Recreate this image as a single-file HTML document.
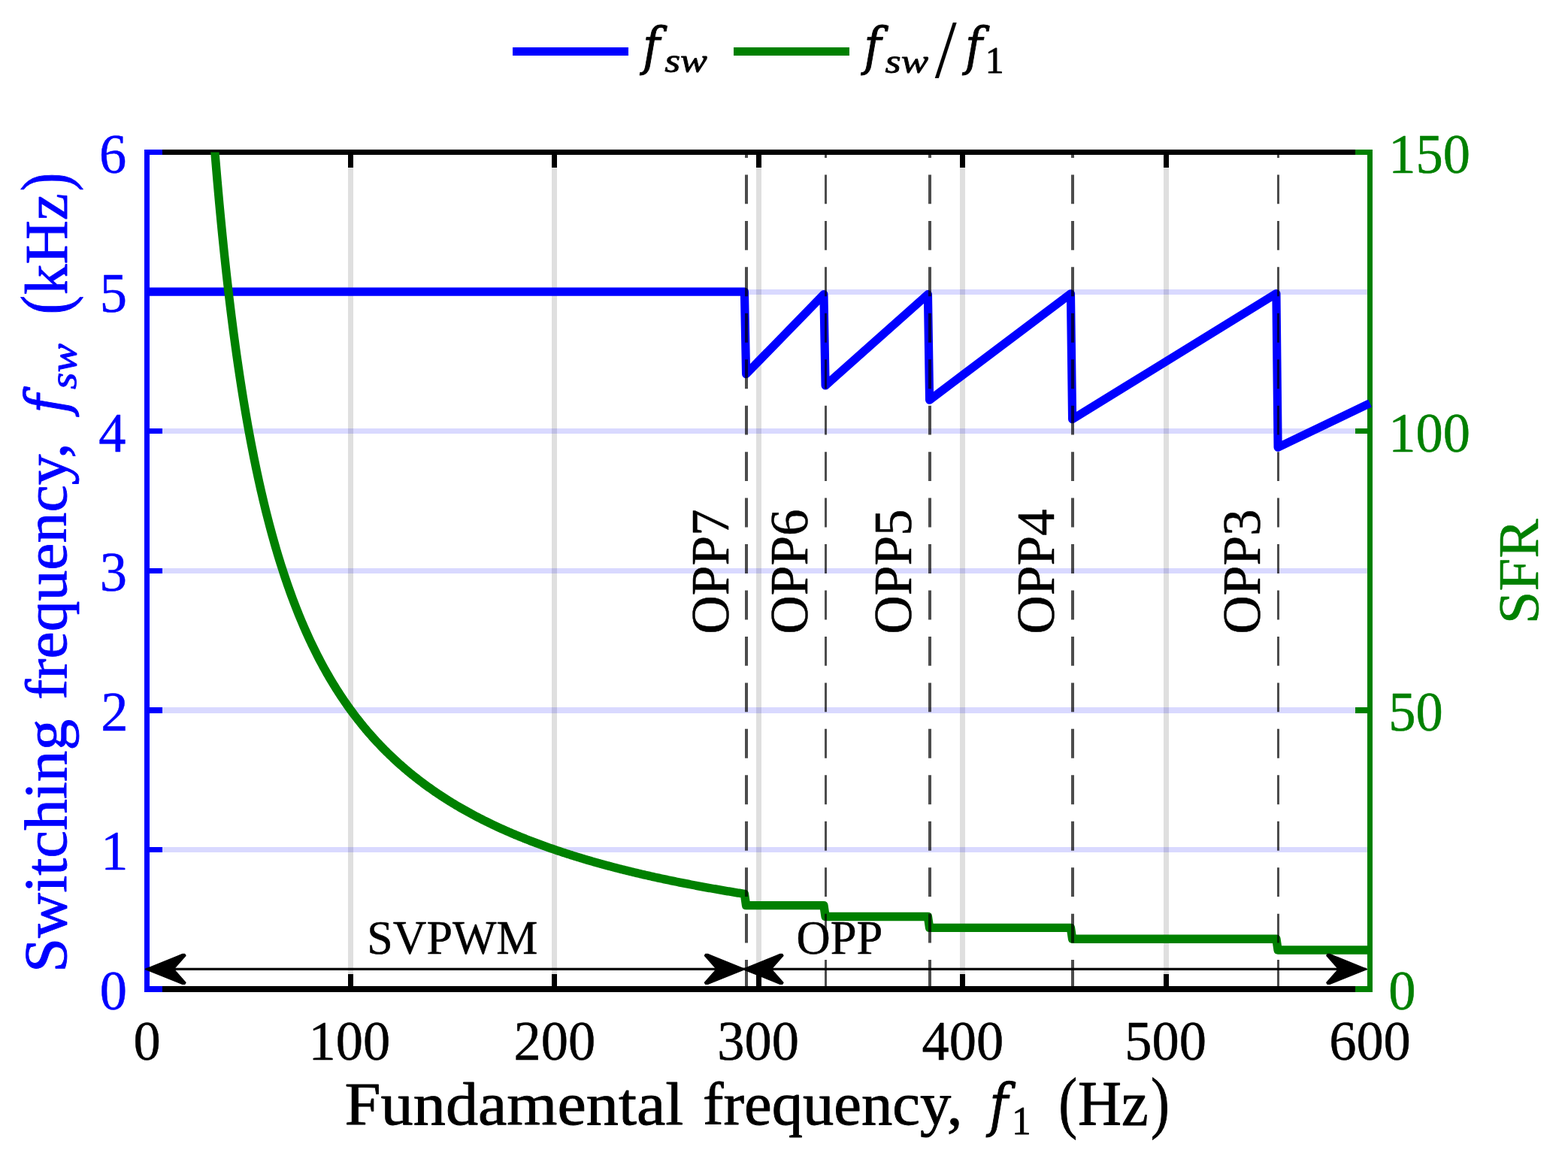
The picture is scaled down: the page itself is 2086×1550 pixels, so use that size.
<!DOCTYPE html>
<html><head><meta charset="utf-8"><title>Switching frequency vs fundamental frequency</title>
<style>html,body{margin:0;padding:0;background:#fff;}svg{display:block;}
text{font-family:"Liberation Serif","Times New Roman",serif;font-size:100px;}</style></head>
<body><svg width="2086" height="1550" viewBox="0 0 2086 1550">
<rect width="2086" height="1550" fill="#fff"/>
<rect x="463" y="206" width="7" height="1106" fill="#262626" fill-opacity="0.15"/>
<rect x="734" y="206" width="7" height="1106" fill="#262626" fill-opacity="0.15"/>
<rect x="1006" y="206" width="7" height="1106" fill="#262626" fill-opacity="0.15"/>
<rect x="1277" y="206" width="7" height="1106" fill="#262626" fill-opacity="0.15"/>
<rect x="1548" y="206" width="7" height="1106" fill="#262626" fill-opacity="0.15"/>
<rect x="199" y="1127" width="1620" height="7" fill="#0000ff" fill-opacity="0.15"/>
<rect x="199" y="941" width="1620" height="8" fill="#0000ff" fill-opacity="0.15"/>
<rect x="199" y="756" width="1620" height="7" fill="#0000ff" fill-opacity="0.15"/>
<rect x="199" y="570" width="1620" height="7" fill="#0000ff" fill-opacity="0.15"/>
<rect x="199" y="385" width="1620" height="7" fill="#0000ff" fill-opacity="0.15"/>
<rect x="192" y="199" width="1634" height="7" fill="#000"/>
<rect x="192" y="1312" width="1634" height="8" fill="#000"/>
<rect x="463" y="206" width="7" height="17" fill="#000"/>
<rect x="463" y="1296" width="7" height="16" fill="#000"/>
<rect x="734" y="206" width="7" height="17" fill="#000"/>
<rect x="734" y="1296" width="7" height="16" fill="#000"/>
<rect x="1006" y="206" width="7" height="17" fill="#000"/>
<rect x="1006" y="1296" width="7" height="16" fill="#000"/>
<rect x="1277" y="206" width="7" height="17" fill="#000"/>
<rect x="1277" y="1296" width="7" height="16" fill="#000"/>
<rect x="1548" y="206" width="7" height="17" fill="#000"/>
<rect x="1548" y="1296" width="7" height="16" fill="#000"/>
<rect x="192" y="199" width="7" height="1121" fill="#0000ff"/>
<rect x="192" y="1312" width="24" height="8" fill="#0000ff"/>
<rect x="192" y="1127" width="24" height="7" fill="#0000ff"/>
<rect x="192" y="941" width="24" height="8" fill="#0000ff"/>
<rect x="192" y="756" width="24" height="7" fill="#0000ff"/>
<rect x="192" y="570" width="24" height="7" fill="#0000ff"/>
<rect x="192" y="385" width="24" height="7" fill="#0000ff"/>
<rect x="192" y="199" width="24" height="7" fill="#0000ff"/>
<rect x="1819" y="199" width="7" height="1121" fill="#008000"/>
<rect x="1803" y="1312" width="23" height="8" fill="#008000"/>
<rect x="1803" y="941" width="23" height="8" fill="#008000"/>
<rect x="1803" y="570" width="23" height="7" fill="#008000"/>
<rect x="1803" y="199" width="23" height="7" fill="#008000"/>
<defs><clipPath id="clipTop"><rect x="150" y="202.5" width="1750" height="1200"/></clipPath></defs>
<polyline points="195.50,388.08 990.43,388.08 992.60,497.71 1095.93,391.63 1098.10,512.95 1234.43,391.66 1236.60,532.23 1424.43,390.83 1426.60,557.70 1697.93,390.58 1700.10,595.19 1822.50,536.55" fill="none" stroke="#0000ff" stroke-width="11.2" stroke-linejoin="round"/>
<polyline clip-path="url(#clipTop)" points="276.85,78.78 278.21,99.06 279.56,118.69 280.92,137.69 282.27,156.10 283.63,173.95 284.99,191.25 286.34,208.04 287.70,224.33 289.05,240.15 290.41,255.52 291.76,270.46 293.12,284.98 294.48,299.11 295.83,312.85 297.19,326.22 298.54,339.25 299.90,351.93 301.25,364.29 302.61,376.34 303.97,388.08 305.32,399.54 306.68,410.72 308.03,421.62 309.39,432.27 310.75,442.67 312.10,452.82 313.46,462.74 314.81,472.44 316.17,481.92 317.52,491.19 318.88,500.25 320.24,509.12 321.59,517.79 322.95,526.28 324.30,534.60 325.66,542.74 327.02,550.71 328.37,558.52 329.73,566.17 331.08,573.67 332.44,581.02 333.79,588.22 335.15,595.29 336.51,602.22 337.86,609.02 339.22,615.69 340.57,622.23 341.93,628.65 343.29,634.96 344.64,641.15 346.00,647.23 347.35,653.20 348.71,659.07 350.06,664.83 351.42,670.49 352.78,676.06 354.13,681.53 355.49,686.90 356.84,692.19 358.20,697.39 359.56,702.50 360.91,707.53 362.27,712.48 363.62,717.34 364.98,722.13 366.33,726.85 367.69,731.49 369.05,736.05 370.40,740.55 371.76,744.97 373.11,749.33 374.47,753.63 375.83,757.85 377.18,762.02 378.54,766.12 379.89,770.17 381.25,774.15 382.61,778.08 383.96,781.95 385.32,785.76 386.67,789.52 388.03,793.23 389.38,796.89 390.74,800.49 392.10,804.05 393.45,807.55 394.81,811.01 396.16,814.42 397.52,817.79 398.88,821.11 400.23,824.39 401.59,827.62 402.94,830.81 404.30,833.97 405.65,837.08 407.01,840.15 408.37,843.18 409.72,846.17 411.08,849.12 412.43,852.04 413.79,854.92 415.14,857.77 416.50,860.58 417.86,863.36 419.21,866.10 420.57,868.81 421.92,871.49 423.28,874.13 424.64,876.75 425.99,879.33 427.35,881.89 428.70,884.41 430.06,886.91 431.41,889.37 432.77,891.81 434.13,894.22 435.48,896.60 436.84,898.96 438.19,901.29 439.55,903.59 440.91,905.87 442.26,908.12 443.62,910.35 444.97,912.56 446.33,914.74 447.68,916.90 449.04,919.03 450.40,921.14 451.75,923.23 453.11,925.30 454.46,927.34 455.82,929.37 457.18,931.37 458.53,933.35 459.89,935.32 461.24,937.26 462.60,939.18 463.95,941.08 465.31,942.97 466.67,944.83 468.02,946.68 469.38,948.51 470.73,950.32 472.09,952.11 473.45,953.89 474.80,955.64 476.16,957.38 477.51,959.11 478.87,960.82 480.22,962.51 481.58,964.18 482.94,965.84 484.29,967.49 485.65,969.12 487.00,970.73 488.36,972.33 489.72,973.91 491.07,975.48 492.43,977.04 493.78,978.58 495.14,980.10 496.49,981.62 497.85,983.12 499.21,984.60 500.56,986.07 501.92,987.53 503.27,988.98 504.63,990.42 505.99,991.84 507.34,993.25 508.70,994.64 510.05,996.03 511.41,997.40 512.76,998.76 514.12,1000.11 515.48,1001.45 516.83,1002.78 518.19,1004.10 519.54,1005.40 520.90,1006.69 522.26,1007.98 523.61,1009.25 524.97,1010.51 526.32,1011.77 527.68,1013.01 529.03,1014.24 530.39,1015.46 531.75,1016.67 533.10,1017.87 534.46,1019.07 535.81,1020.25 537.17,1021.42 538.53,1022.59 539.88,1023.74 541.24,1024.89 542.59,1026.03 543.95,1027.15 545.30,1028.27 546.66,1029.38 548.02,1030.49 549.37,1031.58 550.73,1032.67 552.08,1033.74 553.44,1034.81 554.80,1035.87 556.15,1036.93 557.51,1037.97 558.86,1039.01 560.22,1040.04 561.58,1041.06 562.93,1042.08 564.29,1043.08 565.64,1044.08 567.00,1045.08 568.35,1046.06 569.71,1047.04 571.07,1048.01 572.42,1048.97 573.78,1049.93 575.13,1050.88 576.49,1051.82 577.85,1052.76 579.20,1053.69 580.56,1054.62 581.91,1055.53 583.27,1056.44 584.62,1057.35 585.98,1058.25 587.34,1059.14 588.69,1060.02 590.05,1060.90 591.40,1061.78 592.76,1062.64 594.12,1063.51 595.47,1064.36 596.83,1065.21 598.18,1066.06 599.54,1066.89 600.89,1067.73 602.25,1068.56 603.61,1069.38 604.96,1070.19 606.32,1071.01 607.67,1071.81 609.03,1072.61 610.38,1073.41 611.74,1074.20 613.10,1074.98 614.45,1075.76 615.81,1076.54 617.16,1077.31 618.52,1078.07 619.88,1078.83 621.23,1079.59 622.59,1080.34 623.94,1081.08 625.30,1081.83 626.65,1082.56 628.01,1083.29 629.37,1084.02 630.72,1084.74 632.08,1085.46 633.43,1086.18 634.79,1086.88 636.15,1087.59 637.50,1088.29 638.86,1088.99 640.21,1089.68 641.57,1090.37 642.92,1091.05 644.28,1091.73 645.64,1092.41 646.99,1093.08 648.35,1093.74 649.70,1094.41 651.06,1095.07 652.42,1095.72 653.77,1096.37 655.13,1097.02 656.48,1097.67 657.84,1098.31 659.19,1098.94 660.55,1099.58 661.91,1100.21 663.26,1100.83 664.62,1101.45 665.97,1102.07 667.33,1102.69 668.69,1103.30 670.04,1103.90 671.40,1104.51 672.75,1105.11 674.11,1105.71 675.46,1106.30 676.82,1106.89 678.18,1107.48 679.53,1108.06 680.89,1108.64 682.24,1109.22 683.60,1109.80 684.96,1110.37 686.31,1110.94 687.67,1111.50 689.02,1112.06 690.38,1112.62 691.73,1113.18 693.09,1113.73 694.45,1114.28 695.80,1114.83 697.16,1115.37 698.51,1115.91 699.87,1116.45 701.23,1116.98 702.58,1117.52 703.94,1118.04 705.29,1118.57 706.65,1119.09 708.00,1119.62 709.36,1120.13 710.72,1120.65 712.07,1121.16 713.43,1121.67 714.78,1122.18 716.14,1122.68 717.50,1123.19 718.85,1123.69 720.21,1124.18 721.56,1124.68 722.92,1125.17 724.27,1125.66 725.63,1126.14 726.99,1126.63 728.34,1127.11 729.70,1127.59 731.05,1128.07 732.41,1128.54 733.77,1129.01 735.12,1129.48 736.48,1129.95 737.83,1130.42 739.19,1130.88 740.54,1131.34 741.90,1131.80 743.26,1132.25 744.61,1132.71 745.97,1133.16 747.32,1133.61 748.68,1134.06 750.04,1134.50 751.39,1134.94 752.75,1135.38 754.10,1135.82 755.46,1136.26 756.81,1136.69 758.17,1137.12 759.53,1137.55 760.88,1137.98 762.24,1138.41 763.59,1138.83 764.95,1139.25 766.31,1139.67 767.66,1140.09 769.02,1140.51 770.37,1140.92 771.73,1141.33 773.08,1141.74 774.44,1142.15 775.80,1142.56 777.15,1142.96 778.51,1143.36 779.86,1143.76 781.22,1144.16 782.58,1144.56 783.93,1144.96 785.29,1145.35 786.64,1145.74 788.00,1146.13 789.35,1146.52 790.71,1146.90 792.07,1147.29 793.42,1147.67 794.78,1148.05 796.13,1148.43 797.49,1148.81 798.85,1149.18 800.20,1149.56 801.56,1149.93 802.91,1150.30 804.27,1150.67 805.62,1151.04 806.98,1151.40 808.34,1151.77 809.69,1152.13 811.05,1152.49 812.40,1152.85 813.76,1153.21 815.12,1153.56 816.47,1153.92 817.83,1154.27 819.18,1154.62 820.54,1154.97 821.89,1155.32 823.25,1155.67 824.61,1156.01 825.96,1156.36 827.32,1156.70 828.67,1157.04 830.03,1157.38 831.39,1157.72 832.74,1158.06 834.10,1158.39 835.45,1158.73 836.81,1159.06 838.16,1159.39 839.52,1159.72 840.88,1160.05 842.23,1160.37 843.59,1160.70 844.94,1161.02 846.30,1161.35 847.66,1161.67 849.01,1161.99 850.37,1162.31 851.72,1162.63 853.08,1162.94 854.43,1163.26 855.79,1163.57 857.15,1163.88 858.50,1164.19 859.86,1164.50 861.21,1164.81 862.57,1165.12 863.93,1165.43 865.28,1165.73 866.64,1166.03 867.99,1166.34 869.35,1166.64 870.70,1166.94 872.06,1167.24 873.42,1167.53 874.77,1167.83 876.13,1168.12 877.48,1168.42 878.84,1168.71 880.20,1169.00 881.55,1169.29 882.91,1169.58 884.26,1169.87 885.62,1170.16 886.97,1170.44 888.33,1170.73 889.69,1171.01 891.04,1171.30 892.40,1171.58 893.75,1171.86 895.11,1172.14 896.47,1172.42 897.82,1172.69 899.18,1172.97 900.53,1173.24 901.89,1173.52 903.24,1173.79 904.60,1174.06 905.96,1174.33 907.31,1174.60 908.67,1174.87 910.02,1175.14 911.38,1175.41 912.74,1175.67 914.09,1175.94 915.45,1176.20 916.80,1176.46 918.16,1176.73 919.51,1176.99 920.87,1177.25 922.23,1177.50 923.58,1177.76 924.94,1178.02 926.29,1178.28 927.65,1178.53 929.01,1178.78 930.36,1179.04 931.72,1179.29 933.07,1179.54 934.43,1179.79 935.78,1180.04 937.14,1180.29 938.50,1180.54 939.85,1180.78 941.21,1181.03 942.56,1181.28 943.92,1181.52 945.28,1181.76 946.63,1182.00 947.99,1182.25 949.34,1182.49 950.70,1182.73 952.05,1182.97 953.41,1183.20 954.77,1183.44 956.12,1183.68 957.48,1183.91 958.83,1184.15 960.19,1184.38 961.55,1184.61 962.90,1184.85 964.26,1185.08 965.61,1185.31 966.97,1185.54 968.32,1185.77 969.68,1185.99 971.04,1186.22 972.39,1186.45 973.75,1186.67 975.10,1186.90 976.46,1187.12 977.82,1187.35 979.17,1187.57 980.53,1187.79 981.88,1188.01 983.24,1188.23 984.59,1188.45 985.95,1188.67 987.31,1188.89 988.66,1189.11 990.02,1189.32 990.43,1189.39 992.60,1204.65 1095.93,1204.65 1098.10,1219.50 1234.43,1219.50 1236.60,1234.34 1424.43,1234.34 1426.60,1249.19 1697.93,1249.19 1700.10,1264.04 1822.50,1264.04" fill="none" stroke="#008000" stroke-width="11.4" stroke-linejoin="round"/>
<path d="M991,1277.10H995V1316.00H991ZM991,1215.65H995V1254.55H991ZM991,1154.20H995V1193.10H991ZM991,1092.75H995V1131.65H991ZM991,1031.30H995V1070.20H991ZM991,969.85H995V1008.75H991ZM991,908.40H995V947.30H991ZM991,846.95H995V885.85H991ZM991,785.50H995V824.40H991ZM991,724.05H995V762.95H991ZM991,662.60H995V701.50H991ZM991,601.15H995V640.05H991ZM991,539.70H995V578.60H991ZM991,478.25H995V517.15H991ZM991,416.80H995V455.70H991ZM991,355.35H995V394.25H991ZM991,293.90H995V332.80H991ZM991,232.45H995V271.35H991ZM991,202.50H995V209.90H991Z" fill="#000" fill-opacity="0.7"/>
<path d="M1097,1277.10H1100V1316.00H1097ZM1097,1215.65H1100V1254.55H1097ZM1097,1154.20H1100V1193.10H1097ZM1097,1092.75H1100V1131.65H1097ZM1097,1031.30H1100V1070.20H1097ZM1097,969.85H1100V1008.75H1097ZM1097,908.40H1100V947.30H1097ZM1097,846.95H1100V885.85H1097ZM1097,785.50H1100V824.40H1097ZM1097,724.05H1100V762.95H1097ZM1097,662.60H1100V701.50H1097ZM1097,601.15H1100V640.05H1097ZM1097,539.70H1100V578.60H1097ZM1097,478.25H1100V517.15H1097ZM1097,416.80H1100V455.70H1097ZM1097,355.35H1100V394.25H1097ZM1097,293.90H1100V332.80H1097ZM1097,232.45H1100V271.35H1097ZM1097,202.50H1100V209.90H1097Z" fill="#000" fill-opacity="0.7"/>
<path d="M1235,1277.10H1239V1316.00H1235ZM1235,1215.65H1239V1254.55H1235ZM1235,1154.20H1239V1193.10H1235ZM1235,1092.75H1239V1131.65H1235ZM1235,1031.30H1239V1070.20H1235ZM1235,969.85H1239V1008.75H1235ZM1235,908.40H1239V947.30H1235ZM1235,846.95H1239V885.85H1235ZM1235,785.50H1239V824.40H1235ZM1235,724.05H1239V762.95H1235ZM1235,662.60H1239V701.50H1235ZM1235,601.15H1239V640.05H1235ZM1235,539.70H1239V578.60H1235ZM1235,478.25H1239V517.15H1235ZM1235,416.80H1239V455.70H1235ZM1235,355.35H1239V394.25H1235ZM1235,293.90H1239V332.80H1235ZM1235,232.45H1239V271.35H1235ZM1235,202.50H1239V209.90H1235Z" fill="#000" fill-opacity="0.7"/>
<path d="M1425,1277.10H1429V1316.00H1425ZM1425,1215.65H1429V1254.55H1425ZM1425,1154.20H1429V1193.10H1425ZM1425,1092.75H1429V1131.65H1425ZM1425,1031.30H1429V1070.20H1425ZM1425,969.85H1429V1008.75H1425ZM1425,908.40H1429V947.30H1425ZM1425,846.95H1429V885.85H1425ZM1425,785.50H1429V824.40H1425ZM1425,724.05H1429V762.95H1425ZM1425,662.60H1429V701.50H1425ZM1425,601.15H1429V640.05H1425ZM1425,539.70H1429V578.60H1425ZM1425,478.25H1429V517.15H1425ZM1425,416.80H1429V455.70H1425ZM1425,355.35H1429V394.25H1425ZM1425,293.90H1429V332.80H1425ZM1425,232.45H1429V271.35H1425ZM1425,202.50H1429V209.90H1425Z" fill="#000" fill-opacity="0.7"/>
<path d="M1699,1277.10H1702V1316.00H1699ZM1699,1215.65H1702V1254.55H1699ZM1699,1154.20H1702V1193.10H1699ZM1699,1092.75H1702V1131.65H1699ZM1699,1031.30H1702V1070.20H1699ZM1699,969.85H1702V1008.75H1699ZM1699,908.40H1702V947.30H1699ZM1699,846.95H1702V885.85H1699ZM1699,785.50H1702V824.40H1699ZM1699,724.05H1702V762.95H1699ZM1699,662.60H1702V701.50H1699ZM1699,601.15H1702V640.05H1699ZM1699,539.70H1702V578.60H1699ZM1699,478.25H1702V517.15H1699ZM1699,416.80H1702V455.70H1699ZM1699,355.35H1702V394.25H1699ZM1699,293.90H1702V332.80H1699ZM1699,232.45H1702V271.35H1699ZM1699,202.50H1702V209.90H1699Z" fill="#000" fill-opacity="0.7"/>
<line x1="193.80" y1="1289.4" x2="990.60" y2="1289.4" stroke="#000" stroke-width="3.2"/>
<polygon points="193.60,1289.40 242.80,1269.60 245.80,1269.60 246.80,1271.40 232.00,1288.20 232.00,1290.60 246.80,1307.40 245.80,1309.20 242.80,1309.20" fill="#000" stroke="#000" stroke-width="1.6" stroke-linejoin="round"/>
<polygon points="990.80,1289.40 941.60,1269.60 938.60,1269.60 937.60,1271.40 952.40,1288.20 952.40,1290.60 937.60,1307.40 938.60,1309.20 941.60,1309.20" fill="#000" stroke="#000" stroke-width="1.6" stroke-linejoin="round"/>
<line x1="988.80" y1="1289.4" x2="1818.00" y2="1289.4" stroke="#000" stroke-width="3.2"/>
<polygon points="988.60,1289.40 1037.80,1269.60 1040.80,1269.60 1041.80,1271.40 1027.00,1288.20 1027.00,1290.60 1041.80,1307.40 1040.80,1309.20 1037.80,1309.20" fill="#000" stroke="#000" stroke-width="1.6" stroke-linejoin="round"/>
<polygon points="1818.20,1289.40 1769.00,1269.60 1766.00,1269.60 1765.00,1271.40 1779.80,1288.20 1779.80,1290.60 1765.00,1307.40 1766.00,1309.20 1769.00,1309.20" fill="#000" stroke="#000" stroke-width="1.6" stroke-linejoin="round"/>
<text transform="matrix(0.6193,0.0000,0.0000,0.6328,488.3147,1269.4843)" fill="#000" stroke="#000" stroke-width="0.799" stroke-linejoin="round">SVPWM</text>
<text transform="matrix(0.6257,0.0000,0.0000,0.6313,1059.5471,1269.4873)" fill="#000" stroke="#000" stroke-width="0.796" stroke-linejoin="round">OPP</text>
<text transform="matrix(0.0000,-0.7132,0.7245,0.0000,968.7000,843.7529)" fill="#000" stroke="#000" stroke-width="0.696" stroke-linejoin="round">OPP7</text>
<text transform="matrix(0.0000,-0.7132,0.7245,0.0000,1073.6000,843.7529)" fill="#000" stroke="#000" stroke-width="0.696" stroke-linejoin="round">OPP6</text>
<text transform="matrix(0.0000,-0.7132,0.7245,0.0000,1212.3000,843.7529)" fill="#000" stroke="#000" stroke-width="0.696" stroke-linejoin="round">OPP5</text>
<text transform="matrix(0.0000,-0.7132,0.7245,0.0000,1401.5000,843.7529)" fill="#000" stroke="#000" stroke-width="0.696" stroke-linejoin="round">OPP4</text>
<text transform="matrix(0.0000,-0.7132,0.7245,0.0000,1675.8000,843.7529)" fill="#000" stroke="#000" stroke-width="0.696" stroke-linejoin="round">OPP3</text>
<text transform="matrix(0.7246,0.0000,0.0000,0.7320,177.3838,1409.6360)" fill="#000" stroke="#000" stroke-width="0.687" stroke-linejoin="round">0</text>
<text transform="matrix(0.7246,0.0000,0.0000,0.7320,410.5065,1409.6360)" fill="#000" stroke="#000" stroke-width="0.687" stroke-linejoin="round">100</text>
<text transform="matrix(0.7246,0.0000,0.0000,0.7320,683.4847,1409.6360)" fill="#000" stroke="#000" stroke-width="0.687" stroke-linejoin="round">200</text>
<text transform="matrix(0.7246,0.0000,0.0000,0.7320,954.2891,1409.6360)" fill="#000" stroke="#000" stroke-width="0.687" stroke-linejoin="round">300</text>
<text transform="matrix(0.7246,0.0000,0.0000,0.7320,1226.5427,1409.6360)" fill="#000" stroke="#000" stroke-width="0.687" stroke-linejoin="round">400</text>
<text transform="matrix(0.7246,0.0000,0.0000,0.7320,1496.2601,1409.6360)" fill="#000" stroke="#000" stroke-width="0.687" stroke-linejoin="round">500</text>
<text transform="matrix(0.7246,0.0000,0.0000,0.7320,1768.1514,1409.6360)" fill="#000" stroke="#000" stroke-width="0.687" stroke-linejoin="round">600</text>
<text transform="matrix(0.7246,0.0000,0.0000,0.7320,132.7662,1343.0000)" fill="#0000ff" stroke="#0000ff" stroke-width="0.687" stroke-linejoin="round">0</text>
<text transform="matrix(0.7246,0.0000,0.0000,0.7320,134.2155,1157.4167)" fill="#0000ff" stroke="#0000ff" stroke-width="0.687" stroke-linejoin="round">1</text>
<text transform="matrix(0.7246,0.0000,0.0000,0.7320,134.2155,971.8333)" fill="#0000ff" stroke="#0000ff" stroke-width="0.687" stroke-linejoin="round">2</text>
<text transform="matrix(0.7246,0.0000,0.0000,0.7320,132.7662,786.2500)" fill="#0000ff" stroke="#0000ff" stroke-width="0.687" stroke-linejoin="round">3</text>
<text transform="matrix(0.7246,0.0000,0.0000,0.7320,131.3169,600.6667)" fill="#0000ff" stroke="#0000ff" stroke-width="0.687" stroke-linejoin="round">4</text>
<text transform="matrix(0.7246,0.0000,0.0000,0.7320,132.7662,415.0833)" fill="#0000ff" stroke="#0000ff" stroke-width="0.687" stroke-linejoin="round">5</text>
<text transform="matrix(0.7246,0.0000,0.0000,0.7320,132.0415,229.5000)" fill="#0000ff" stroke="#0000ff" stroke-width="0.687" stroke-linejoin="round">6</text>
<text transform="matrix(0.7246,0.0000,0.0000,0.7320,1847.3000,1343.0000)" fill="#008000" stroke="#008000" stroke-width="0.687" stroke-linejoin="round">0</text>
<text transform="matrix(0.7246,0.0000,0.0000,0.7320,1847.3000,971.8333)" fill="#008000" stroke="#008000" stroke-width="0.687" stroke-linejoin="round">50</text>
<text transform="matrix(0.7246,0.0000,0.0000,0.7320,1847.3000,600.6667)" fill="#008000" stroke="#008000" stroke-width="0.687" stroke-linejoin="round">100</text>
<text transform="matrix(0.7246,0.0000,0.0000,0.7320,1847.3000,229.5000)" fill="#008000" stroke="#008000" stroke-width="0.687" stroke-linejoin="round">150</text>
<text transform="matrix(0.8634,0.0000,0.0000,0.8114,458.5597,1496.4386)" fill="#000" stroke="#000" stroke-width="1.075" stroke-linejoin="round">Fundamental</text>
<text transform="matrix(0.8262,0.0000,0.0000,0.7946,934.9715,1495.8641)" fill="#000" stroke="#000" stroke-width="1.111" stroke-linejoin="round">frequency,</text>
<text transform="matrix(0.6776,0.0000,0.0000,0.7615,1315.9155,1496.5594)" fill="#000" font-style="italic" style="font-family:&quot;DejaVu Serif&quot;,serif" stroke="#000" stroke-width="1.253" stroke-linejoin="round">f</text>
<text transform="matrix(0.5057,0.0000,0.0000,0.5242,1346.1986,1508.7500)" fill="#000" stroke="#000" stroke-width="1.748" stroke-linejoin="round">1</text>
<text transform="matrix(0.7385,0.0000,0.0000,0.9056,1408.5962,1497.3333)" fill="#000" stroke="#000" stroke-width="1.101" stroke-linejoin="round">(</text>
<text transform="matrix(0.8036,0.0000,0.0000,0.8508,1434.0392,1496.8500)" fill="#000" stroke="#000" stroke-width="1.088" stroke-linejoin="round">Hz</text>
<text transform="matrix(0.7423,0.0000,0.0000,0.9056,1531.0231,1497.3333)" fill="#000" stroke="#000" stroke-width="1.098" stroke-linejoin="round">)</text>
<text transform="matrix(0.0000,-0.8312,0.8122,0.0000,88.1933,1294.0686)" fill="#0000ff" stroke="#0000ff" stroke-width="1.095" stroke-linejoin="round">Switching</text>
<text transform="matrix(0.0000,-0.8166,0.7837,0.0000,87.7924,930.8999)" fill="#0000ff" stroke="#0000ff" stroke-width="1.125" stroke-linejoin="round">frequency,</text>
<text transform="matrix(0.0000,-0.6966,0.7615,0.0000,89.4594,550.3707)" fill="#0000ff" font-style="italic" style="font-family:&quot;DejaVu Serif&quot;,serif" stroke="#0000ff" stroke-width="1.236" stroke-linejoin="round">f</text>
<text transform="matrix(0.0000,-0.5760,0.5062,0.0000,101.0438,517.9260)" fill="#0000ff" font-style="italic" stroke="#0000ff" stroke-width="1.667" stroke-linejoin="round">sw</text>
<text transform="matrix(0.0000,-0.7577,0.9044,0.0000,90.6567,418.2808)" fill="#0000ff" stroke="#0000ff" stroke-width="1.087" stroke-linejoin="round">(</text>
<text transform="matrix(0.0000,-0.8093,0.8101,0.0000,89.3500,392.0685)" fill="#0000ff" stroke="#0000ff" stroke-width="1.112" stroke-linejoin="round">kHz</text>
<text transform="matrix(0.0000,-0.7308,0.9044,0.0000,90.6567,254.3423)" fill="#0000ff" stroke="#0000ff" stroke-width="1.107" stroke-linejoin="round">)</text>
<text transform="matrix(0.0000,-0.7865,0.7687,0.0000,2046.2127,830.2558)" fill="#008000" stroke="#008000" stroke-width="0.643" stroke-linejoin="round">SFR</text>
<rect x="682" y="63" width="154" height="11" fill="#0000ff"/>
<rect x="976" y="63" width="154" height="11" fill="#008000"/>
<text transform="matrix(0.6276,0.0000,0.0000,0.6865,855.1155,85.9344)" fill="#000" font-style="italic" style="font-family:&quot;DejaVu Serif&quot;,serif" stroke="#000" stroke-width="1.371" stroke-linejoin="round">f</text>
<text transform="matrix(0.5375,0.0000,0.0000,0.4604,884.2125,95.9896)" fill="#000" font-style="italic" stroke="#000" stroke-width="1.809" stroke-linejoin="round">sw</text>
<text transform="matrix(0.6293,0.0000,0.0000,0.6875,1149.2259,86.0125)" fill="#000" font-style="italic" style="font-family:&quot;DejaVu Serif&quot;,serif" stroke="#000" stroke-width="1.368" stroke-linejoin="round">f</text>
<text transform="matrix(0.5452,0.0000,0.0000,0.4625,1177.5048,96.7875)" fill="#000" font-style="italic" stroke="#000" stroke-width="1.792" stroke-linejoin="round">sw</text>
<text transform="matrix(1.0429,0.0000,0.0000,1.1106,1243.8000,102.6894)" fill="#000">/</text>
<text transform="matrix(0.6259,0.0000,0.0000,0.6885,1284.0052,86.0906)" fill="#000" font-style="italic" style="font-family:&quot;DejaVu Serif&quot;,serif" stroke="#000" stroke-width="1.371" stroke-linejoin="round">f</text>
<text transform="matrix(0.4971,0.0000,0.0000,0.5106,1310.6757,97.2500)" fill="#000" stroke="#000" stroke-width="1.786" stroke-linejoin="round">1</text>
</svg></body></html>
